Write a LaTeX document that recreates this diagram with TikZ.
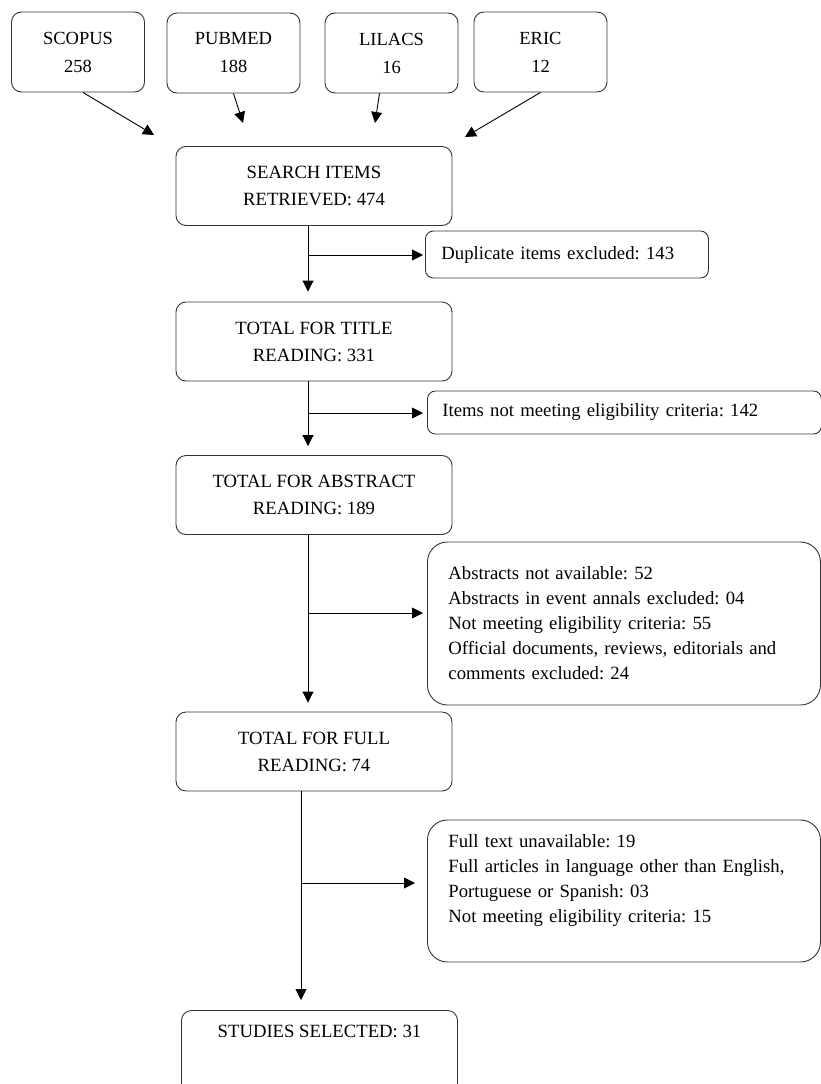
\documentclass[tikz,border=0pt]{standalone}
\usepackage{fontspec}
\setmainfont{Liberation Serif}
\frenchspacing
\usetikzlibrary{arrows.meta}
\tikzset{
	srcbox/.style={draw=black!80,line width=0.9pt,rounded corners=10pt,minimum width=133pt,minimum height=80pt,align=center,font=\fontsize{18.5}{28}\selectfont},
	stagebox/.style={draw=black!80,line width=0.9pt,rounded corners=10pt,minimum width=276pt,minimum height=79pt,align=center,font=\fontsize{18.7}{27}\selectfont},
	exclbox/.style n args={3}{draw=black!80,line width=0.9pt,anchor=west,align=left,text width=#1,inner xsep=#2,rounded corners=#3,font=\fontsize{18.7}{25}\selectfont},
	arr/.style={draw=black,line width=0.9pt,-{Triangle[length=11pt,width=11pt]}}
}
\begin{document}
\begin{tikzpicture}[x=1pt,y=-1pt]
	\useasboundingbox (0,0) rectangle (821,1084);

	\node [srcbox] (scopus) at (78,52) {SCOPUS\\258};
	\node [srcbox] (pubmed) at (233.5,53) {PUBMED\\188};
	\node [srcbox] (lilacs) at (391.5,53) {LILACS\\16};
	\node [srcbox] (eric) at (540.5,52) {ERIC\\12};

	\coordinate (scopustip) at (154,135);
	\coordinate (pubmedtip) at (243,123);
	\coordinate (lilacstip) at (375,123);
	\coordinate (erictip) at (465,137);

	\node [stagebox] (search) at (314,186) {SEARCH ITEMS\\RETRIEVED: 474};
	\node [stagebox] (title) at (314,341.5) {TOTAL FOR TITLE\\READING: 331};
	\node [stagebox] (abstract) at (314,495) {TOTAL FOR ABSTRACT\\READING: 189};
	\node [stagebox] (full) at (314,751.5) {TOTAL FOR FULL\\READING: 74};
	\node [stagebox,anchor=north,minimum height=95pt] (studies) at (319.5,1010) {STUDIES SELECTED: 31\\ \mbox{}\\ \mbox{}};

	\node [exclbox={251pt}{16pt}{8pt},minimum height=47pt] (dup) at (425,254.5) {Duplicate items excluded: 143};
	\node [exclbox={364pt}{15pt}{8pt},minimum height=43pt] (items) at (427,412.5) {Items not meeting eligibility criteria: 142};
	\node [exclbox={351pt}{21pt}{20pt},minimum height=163pt] (abs) at (427,623.5) {Abstracts not available: 52\\Abstracts in event annals excluded: 04\\Not meeting eligibility criteria: 55\\Official documents, reviews, editorials and\\comments excluded: 24};
	\node [exclbox={351pt}{21pt}{20pt},minimum height=142pt] (fulltext) at (427,891) {Full text unavailable: 19\\Full articles in language other than English,\\Portuguese or Spanish: 03\\Not meeting eligibility criteria: 15\\ \mbox{}};

	\draw [arr] ([xshift=5pt]scopus.south) -- (scopustip);
	\draw [arr] (pubmed.south) -- (pubmedtip);
	\draw [arr] ([xshift=-12pt]lilacs.south) -- (lilacstip);
	\draw [arr] (eric.south) -- (erictip);

	\coordinate (b1) at (308,255);
	\coordinate (b2) at (308,413);
	\coordinate (b3) at (308,613);
	\coordinate (b4) at (301,883);

	\draw [arr,shorten >=10pt] ([xshift=-6pt]search.south) -- ([xshift=-6pt]title.north);
	\draw [arr,shorten >=2pt] (b1) -- (b1 -| dup.west);
	\draw [arr,shorten >=9pt] ([xshift=-6pt]title.south) -- ([xshift=-6pt]abstract.north);
	\draw [arr,shorten >=4pt] (b2) -- (b2 -| items.west);
	\draw [arr,shorten >=9pt] ([xshift=-6pt]abstract.south) -- ([xshift=-6pt]full.north);
	\draw [arr,shorten >=4pt] (b3) -- (b3 -| abs.west);
	\draw [arr,shorten >=10pt] ([xshift=-13pt]full.south) -- ([xshift=-18.5pt]studies.north);
	\draw [arr,shorten >=12pt] (b4) -- (b4 -| fulltext.west);
\end{tikzpicture}
\end{document}
